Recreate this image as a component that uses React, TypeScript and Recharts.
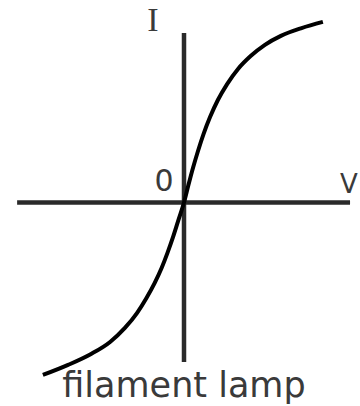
import React from 'react';
import { LineChart, Line, XAxis, YAxis, ReferenceLine, ReferenceDot } from 'recharts';

const voltage = [-5.04, -4.14, -3.32, -2.64, -2.11, -1.68, -1.34, -1.05, -0.8, -0.59, -0.39, -0.2, 0, 0.16, 0.32, 0.5, 0.7, 0.93, 1.21, 1.54, 1.93, 2.38, 2.89, 3.46, 4.2, 4.96];
const current = [-6.16, -5.8, -5.41, -4.98, -4.48, -3.95, -3.41, -2.88, -2.34, -1.8, -1.23, -0.63, 0, 0.63, 1.23, 1.84, 2.45, 3.05, 3.66, 4.23, 4.77, 5.23, 5.63, 5.95, 6.23, 6.45];

const xAxisSpan: [number, number] = [-5.96, 5.93];
const yAxisSpan: [number, number] = [-5.7, 6.05];

const labels = [
  { text: 'I', v: -1.11, i: 6.52, anchor: 'middle', baseline: 'central', font: '"Liberation Serif", serif', size: 34 },
  { text: '0', v: -0.71, i: 0.77, anchor: 'middle', baseline: 'central', font: '"DejaVu Sans", sans-serif', size: 30 },
  { text: 'V', v: 5.57, i: 0.66, anchor: 'start', baseline: 'central', font: '"DejaVu Sans", sans-serif', size: 26 },
  { text: 'filament lamp', v: 0, i: -6.95, anchor: 'middle', baseline: 'alphabetic', font: '"DejaVu Sans", sans-serif', size: 35 },
];

const data = voltage.map((v, k) => ({ v, i: current[k] }));

const makeLabel = (lb: typeof labels[number]) => (props: any) => {
  const vb = props.viewBox || {};
  const cx = vb.x + (vb.width || 0) / 2;
  const cy = vb.y + (vb.height || 0) / 2;
  return (
    <text
      x={cx}
      y={cy}
      textAnchor={lb.anchor}
      dominantBaseline={lb.baseline}
      fontFamily={lb.font}
      fontSize={lb.size}
      fill="#3a3a3a"
    >
      {lb.text}
    </text>
  );
};

export default function App() {
  return (
    <div style={{ position: 'absolute', left: 0, top: 0, width: 360, height: 406, background: '#fff' }}>
      <LineChart width={360} height={406} data={data} margin={{ top: 6.5, right: 8, bottom: 7.5, left: 16 }}>
        <XAxis type="number" dataKey="v" domain={[-6, 6]} hide />
        <YAxis type="number" dataKey="i" domain={[-7, 7]} hide />
        <ReferenceLine
          segment={[{ x: xAxisSpan[0], y: 0 }, { x: xAxisSpan[1], y: 0 }]}
          stroke="#2a2a2a"
          strokeWidth={4.5}
        />
        <ReferenceLine
          segment={[{ x: 0, y: yAxisSpan[0] }, { x: 0, y: yAxisSpan[1] }]}
          stroke="#2a2a2a"
          strokeWidth={4.5}
        />
        <Line
          type="monotone"
          dataKey="i"
          stroke="#000"
          strokeWidth={4}
          dot={false}
          isAnimationActive={false}
        />
        {labels.map((lb) => (
          <ReferenceDot
            key={lb.text}
            x={lb.v}
            y={lb.i}
            r={1}
            fill="none"
            stroke="none"
            label={makeLabel(lb)}
          />
        ))}
      </LineChart>
    </div>
  );
}
